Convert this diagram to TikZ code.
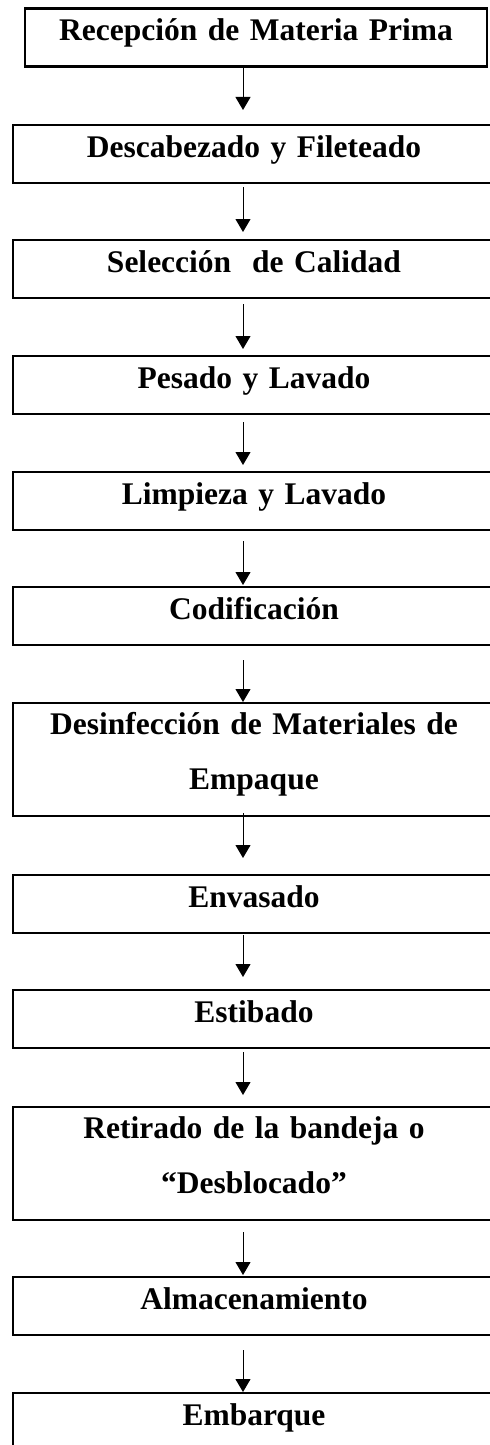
\documentclass[tikz,border=0pt]{standalone}
\usepackage{fontspec}
\setmainfont{Liberation Serif}
\usetikzlibrary{arrows.meta}
\begin{document}
\begin{tikzpicture}[x=1bp,y=-1bp,
        paso/.style={rectangle,draw,line width=2.7bp,inner sep=0pt,outer sep=0pt,
            minimum width=482bp,text width=440bp,align=center,anchor=north,
            font=\fontsize{31.5bp}{55bp}\selectfont\bfseries,
            text height=32bp,text depth=26bp},
        doble/.style={text height=31bp,text depth=82bp}]
        \useasboundingbox (0,0) rectangle (490,1445);
        \clip (0,0) rectangle (490,1445);
        \begin{scope}[every node/.style={paso}]
            \node (1) [minimum width=462bp] at (256,8.5) {Recepción de Materia Prima};
            \node (2) at (254,125) {Descabezado y Fileteado};
            \node (3) at (254,240) {Selección\ \ de Calidad};
            \node (4) at (254,356) {Pesado y Lavado};
            \node (5) at (254,472) {Limpieza y Lavado};
            \node (6) at (254,587) {Codificación};
            \node (7) [doble] at (254,703) {Desinfección de Materiales de\\Empaque};
            \node (8) at (254,875) {Envasado};
            \node (9) at (254,990) {Estibado};
            \node (10) [doble] at (254,1107) {Retirado de la bandeja o\\“Desblocado”};
            \node (11) at (254,1277) {Almacenamiento};
            \node (12) at (254,1393) {Embarque};
        \end{scope}
        \coordinate (eje) at (243,0);
        \begin{scope}[every edge/.style={draw,line width=1bp,-{Triangle[width=15bp,length=13bp]}}]
            \path
                (1.south -| eje) edge [shorten <=1.5bp, shorten >=15bp] (2.north -| eje)
                (2.south -| eje) edge [shorten <=4bp, shorten >=8bp] (3.north -| eje)
                (3.south -| eje) edge [shorten <=6bp, shorten >=7bp] (4.north -| eje)
                (4.south -| eje) edge [shorten <=8bp, shorten >=7bp] (5.north -| eje)
                (5.south -| eje) edge [shorten <=11bp, shorten >=2bp] (6.north -| eje)
                (6.south -| eje) edge [shorten <=15bp, shorten >=1bp] (7.north -| eje)
                (7.south -| eje) edge [shorten <=-3bp, shorten >=17bp] (8.north -| eje)
                (8.south -| eje) edge [shorten <=2bp, shorten >=13bp] (9.north -| eje)
                (9.south -| eje) edge [shorten <=4bp, shorten >=12bp] (10.north -| eje)
                (10.south -| eje) edge [shorten <=12bp, shorten >=2bp] (11.north -| eje)
                (11.south -| eje) edge [shorten <=15bp, shorten >=1bp] (12.north -| eje);
        \end{scope}
    \end{tikzpicture}
\end{document}
